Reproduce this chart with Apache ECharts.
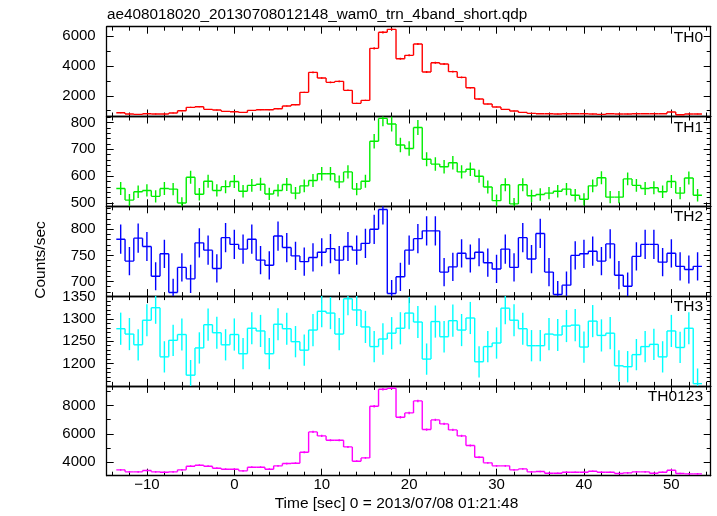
<!DOCTYPE html>
<html><head><meta charset="utf-8">
<script src="https://cdn.jsdelivr.net/npm/echarts@6/dist/echarts.min.js"></script>
<style>html,body{margin:0;padding:0;background:#fff}#c{width:717px;height:516px}</style>
</head><body><div id="c"></div>
<script>
// ---------- DATA ----------
const titleText = 'ae408018020_20130708012148_wam0_trn_4band_short.qdp';
const xTitle = 'Time [sec] 0 = 2013/07/08 01:21:48';
const yTitle = 'Counts/sec';
const panelNames = ['TH0', 'TH1', 'TH2', 'TH3', 'TH0123'];

const binTimes = [-13,-12,-11,-10,-9,-8,-7,-6,-5,-4,
  -3,-2,-1,0,1,2,3,4,5,6,
  7,8,9,10,11,12,13,14,15,16,
  17,18,19,20,21,22,23,24,25,26,
  27,28,29,30,31,32,33,34,35,36,
  37,38,39,40,41,42,43,44,45,46,
  47,48,49,50,51,52,53];

const th0 = [866,777,754,799,777,777,844,1000,1223,1268,
  1089,1045,955,933,888,1022,1067,1067,1134,1313,
  1402,2228,3567,3188,2897,2964,2362,1491,1692,5174,
  6246,6446,4482,4705,5464,3589,4214,4125,3612,3232,
  2540,1781,1446,1246,1089,978,888,821,799,799,
  777,799,799,799,777,754,799,777,777,799,
  799,799,799,911,732,777,777];
const th0Err = [29,28,27,28,28,28,29,32,35,36,
  33,32,31,31,30,32,33,33,34,36,
  37,47,60,56,54,54,49,39,41,72,
  79,80,67,69,74,60,65,64,60,57,
  50,42,38,35,33,31,30,29,28,28,
  28,28,28,28,28,27,28,28,28,28,
  28,28,28,30,27,28,28];

const th1 = [554,511,542,547,525,554,552,500,596,533,
  581,547,561,580,544,566,570,534,547,569,
  537,564,584,609,609,579,616,552,581,730,
  815,794,716,703,781,663,645,635,650,616,
  626,600,560,509,568,497,568,527,532,537,
  544,552,529,514,564,594,522,522,590,566,
  554,557,542,580,537,593,529];
const th1Err = [24,23,23,23,23,24,23,22,24,23,
  24,23,24,24,23,24,24,23,23,24,
  23,24,24,25,25,24,25,23,24,27,
  29,28,27,27,28,26,25,25,25,25,
  25,24,24,23,24,22,24,23,23,23,
  23,23,23,23,24,24,23,23,24,24,
  24,24,23,24,23,24,23];

const th2 = [781,739,783,767,710,753,679,727,705,774,
  760,725,784,771,762,781,741,731,787,765,
  749,738,746,756,763,741,767,760,773,800,
  838,677,709,760,782,797,797,718,728,754,
  744,756,736,724,762,727,784,743,792,718,
  675,693,750,753,758,739,772,712,691,748,
  771,771,737,754,729,723,729];
const th2Err = [28,27,28,28,27,27,26,27,27,28,
  28,27,28,28,28,28,27,27,28,28,
  27,27,27,27,28,27,28,28,28,28,
  29,26,27,28,28,28,28,27,27,27,
  27,27,27,27,28,27,28,27,28,27,
  26,26,27,27,28,27,28,27,26,27,
  28,28,27,27,27,27,27];

const th3 = [1278,1266,1242,1297,1325,1215,1252,1265,1174,1235,
  1287,1269,1242,1265,1222,1279,1273,1222,1288,1278,
  1249,1230,1275,1317,1313,1266,1345,1320,1282,1238,
  1255,1268,1279,1313,1293,1210,1294,1260,1296,1275,
  1302,1204,1238,1246,1324,1297,1278,1240,1240,1266,
  1264,1284,1286,1237,1295,1263,1268,1195,1193,1220,
  1238,1243,1215,1273,1236,1279,1155];
const th3Err = [36,36,35,36,36,35,35,36,34,35,
  36,36,35,36,35,36,36,35,36,36,
  35,35,36,36,36,36,37,36,36,35,
  35,36,36,36,36,35,36,35,36,36,
  36,35,35,35,36,36,36,35,35,36,
  36,36,36,35,36,36,36,35,35,35,
  35,35,35,36,35,36,34];

const th0123 = [3459,3318,3318,3412,3318,3294,3318,3459,3718,3788,
  3718,3576,3506,3506,3388,3647,3647,3506,3741,3906,
  3929,4706,6141,5859,5553,5553,5082,4071,4306,7953,
  9153,9224,7176,7482,8329,6306,6988,6706,6282,5859,
  5176,4353,3953,3741,3741,3459,3529,3318,3341,3224,
  3224,3294,3294,3294,3365,3294,3294,3200,3247,3318,
  3318,3224,3294,3435,3200,3176,3176];
const th0123Err = [59,58,58,58,58,57,58,59,61,62,
  61,60,59,59,58,60,60,59,61,62,
  63,69,78,77,75,75,71,64,66,89,
  96,96,85,86,91,79,84,82,79,77,
  72,66,63,61,61,59,59,58,58,57,
  57,57,57,57,58,57,57,57,57,58,
  58,57,57,59,57,56,56];

const xMajorTicks = [-10, 0, 10, 20, 30, 40, 50];
const yMajorTicks = [
  [2000, 4000, 6000],
  [500, 600, 700, 800],
  [700, 750, 800],
  [1200, 1250, 1300, 1350],
  [4000, 6000, 8000]
];

// ---------- STYLE / LAYOUT ----------
const FONT = '"Liberation Sans", Arial, Helvetica, sans-serif';
const colors = ['#ff0000', '#00ee00', '#0000ff', '#00ffff', '#ff00ff'];
const yRanges = [[612, 6622], [488, 822], [672, 844], [1150, 1351], [3047, 9390]];
const yMinorStep = [1000, 20, 10, 10, 1000];
const X_MIN = -14.6, X_MAX = 54.5;
const GRID_LEFT = 106.7, GRID_RIGHT = 6.3, GRID_TOP = 26.7, GRID_H = 89.8;

function stepTicks(lo, hi, step) {
  const out = [];
  for (let v = Math.ceil(lo / step) * step; v <= hi + 1e-9; v += step) out.push(v);
  return out;
}
const xMinorTicks = stepTicks(X_MIN, X_MAX, 2);
const fmt = v => String(v).replace('-', '\u2212');

const panelVals = [th0, th1, th2, th3, th0123];
const panelErrs = [th0Err, th1Err, th2Err, th3Err, th0123Err];

const grids = [], xAxes = [], yAxes = [], series = [], graphics = [];
const frameLine = { show: true, onZero: false, lineStyle: { color: '#000', width: 1.3 } };
const tickStyle = { color: '#000', width: 1 };

panelNames.forEach((name, i) => {
  const top = GRID_TOP + GRID_H * i;
  grids.push({ left: GRID_LEFT, right: GRID_RIGHT, top: top, height: GRID_H });
  const xb = { type: 'value', gridIndex: i, min: X_MIN, max: X_MAX, splitLine: { show: false } };
  ['bottom', 'top'].forEach(pos => {
    xAxes.push(Object.assign({}, xb, {
      position: pos, axisLine: frameLine,
      axisTick: { show: true, inside: true, length: 7, customValues: xMajorTicks, lineStyle: tickStyle },
      axisLabel: { show: pos === 'bottom' && i === 4, customValues: xMajorTicks, margin: 2,
        fontSize: 15, fontFamily: FONT, color: '#000', formatter: fmt }
    }));
    xAxes.push(Object.assign({}, xb, {
      position: pos, axisLine: { show: false, onZero: false },
      axisTick: { show: true, inside: true, length: 4, customValues: xMinorTicks, lineStyle: tickStyle },
      axisLabel: { show: false }
    }));
  });
  const yr = yRanges[i];
  const yb = { type: 'value', gridIndex: i, min: yr[0], max: yr[1], splitLine: { show: false } };
  const yMinor = stepTicks(yr[0], yr[1], yMinorStep[i]);
  ['left', 'right'].forEach(pos => {
    yAxes.push(Object.assign({}, yb, {
      position: pos, axisLine: frameLine,
      axisTick: { show: true, inside: true, length: 7, customValues: yMajorTicks[i], lineStyle: tickStyle },
      axisLabel: { show: pos === 'left', customValues: yMajorTicks[i], margin: 11,
        fontSize: 15, fontFamily: FONT, color: '#000', formatter: fmt }
    }));
    yAxes.push(Object.assign({}, yb, {
      position: pos, axisLine: { show: false, onZero: false },
      axisTick: { show: true, inside: true, length: 4, customValues: yMinor, lineStyle: tickStyle },
      axisLabel: { show: false }
    }));
  });

  const vals = panelVals[i], errs = panelErrs[i];
  const data = binTimes.map((t, k) => [t, vals[k], errs[k], k < vals.length - 1 ? vals[k + 1] : vals[k]]);
  const color = colors[i];
  series.push({
    type: 'custom', xAxisIndex: 4 * i, yAxisIndex: 4 * i, clip: true, silent: true,
    data: data,
    renderItem: function (params, api) {
      const t = api.value(0), v = api.value(1), e = api.value(2), nv = api.value(3);
      const st = { stroke: color, lineWidth: 1.4 };
      const a = api.coord([t - 0.5, v]), b = api.coord([t + 0.5, v]);
      const lo = api.coord([t, v - e]), hi = api.coord([t, v + e]);
      const n = api.coord([t + 0.5, nv]);
      return { type: 'group', children: [
        { type: 'line', shape: { x1: a[0], y1: a[1], x2: b[0], y2: b[1] }, style: st },
        { type: 'line', shape: { x1: lo[0], y1: lo[1], x2: hi[0], y2: hi[1] }, style: st },
        { type: 'line', shape: { x1: b[0], y1: b[1], x2: n[0], y2: n[1] }, style: st }
      ] };
    }
  });

  graphics.push({ type: 'text', x: 703, y: top + 10.8,
    style: { text: name, align: 'right', verticalAlign: 'middle', font: '15.5px ' + FONT, fill: '#000' } });
});

graphics.push({ type: 'text', x: 107, y: 15,
  style: { text: titleText, align: 'left', verticalAlign: 'middle', font: '15.3px ' + FONT, fill: '#000' } });
graphics.push({ type: 'text', x: 396.5, y: 503.6,
  style: { text: xTitle, align: 'center', verticalAlign: 'middle', font: '15.5px ' + FONT, fill: '#000' } });
graphics.push({ type: 'text', x: 41, y: 260, rotation: Math.PI / 2,
  style: { text: yTitle, align: 'center', verticalAlign: 'middle', font: '15.5px ' + FONT, fill: '#000' } });

const chart = echarts.init(document.getElementById('c'), null, { renderer: 'canvas' });
chart.setOption({
  animation: false,
  backgroundColor: '#fff',
  grid: grids, xAxis: xAxes, yAxis: yAxes, series: series, graphic: graphics
});
</script></body></html>
